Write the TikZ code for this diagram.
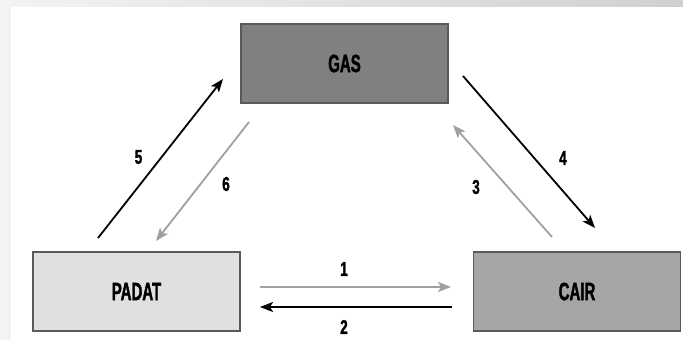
\documentclass[tikz,border=0pt]{standalone}
\usepackage{fontspec}
\setmainfont{Liberation Sans}[FakeStretch=0.6, BoldFeatures={FakeStretch=0.6, FakeBold=1.5}]
\newfontfamily\numfont{Liberation Sans}[FakeStretch=0.68, BoldFeatures={FakeStretch=0.68, FakeBold=1.5}]
\usetikzlibrary{arrows.meta}
\definecolor{gasfill}{HTML}{808080}
\definecolor{padatfill}{HTML}{E0E0E0}
\definecolor{cairfill}{HTML}{A6A6A6}
\definecolor{boxline}{HTML}{5A5A5A}
\definecolor{lightarrow}{HTML}{A0A0A0}
\definecolor{bgband}{HTML}{F3F3F3}
\definecolor{bgdark}{HTML}{D0D0D0}
\tikzset{
  statebox/.style={draw=boxline, line width=1.4pt, minimum width=207pt, minimum height=79pt, inner sep=0pt,
    font=\bfseries\fontsize{25}{25}\selectfont, text=black},
  darkarrow/.style={draw=black, line width=1.8pt, -{Stealth[length=13pt,width=10pt,inset=3pt]}},
  greyarrow/.style={draw=lightarrow, line width=1.8pt, -{Stealth[length=13pt,width=10pt,inset=3pt]}},
  numlabel/.style={font=\numfont\bfseries\fontsize{20}{20}\selectfont, text=black, inner sep=0pt}
}
\begin{document}
\begin{tikzpicture}[x=1pt,y=-1pt]
\useasboundingbox (0,0) rectangle (683,340);
\fill[bgband] (0,0) rectangle (683,340);
\shade[left color=bgband, right color=bgdark] (0,0) rectangle (683,7);
\fill[white] (11,7) rectangle (683,340);

\node[statebox, fill=gasfill] (gas) at (344.5,63.5) {GAS};
\node[statebox, fill=padatfill] (padat) at (136.5,291.5) {PADAT};
\node[statebox, fill=cairfill] (cair) at (577,291.5) {CAIR};

\coordinate (s5) at (98,238);  \coordinate (e5) at (223,79);
\coordinate (s6) at (249,122); \coordinate (e6) at (156,241);
\coordinate (s4) at (463,76);  \coordinate (e4) at (595,228);
\coordinate (s3) at (552,237); \coordinate (e3) at (453,125);
\coordinate (s1) at (260,287); \coordinate (e1) at (451,287);
\coordinate (s2) at (452,307); \coordinate (e2) at (260,307);

\draw[darkarrow] (s5) -- (e5);
\draw[greyarrow] (s6) -- (e6);
\draw[darkarrow] (s4) -- (e4);
\draw[greyarrow] (s3) -- (e3);
\draw[greyarrow] (s1) -- (e1);
\draw[darkarrow] (s2) -- (e2);

\node[numlabel] (l5) at (138.5,157) {5};
\node[numlabel] (l6) at (226,184) {6};
\node[numlabel] (l3) at (476,187) {3};
\node[numlabel] (l4) at (563,158) {4};
\node[numlabel] (l1) at (344,269) {1};
\node[numlabel] (l2) at (344,327) {2};
\end{tikzpicture}
\end{document}
